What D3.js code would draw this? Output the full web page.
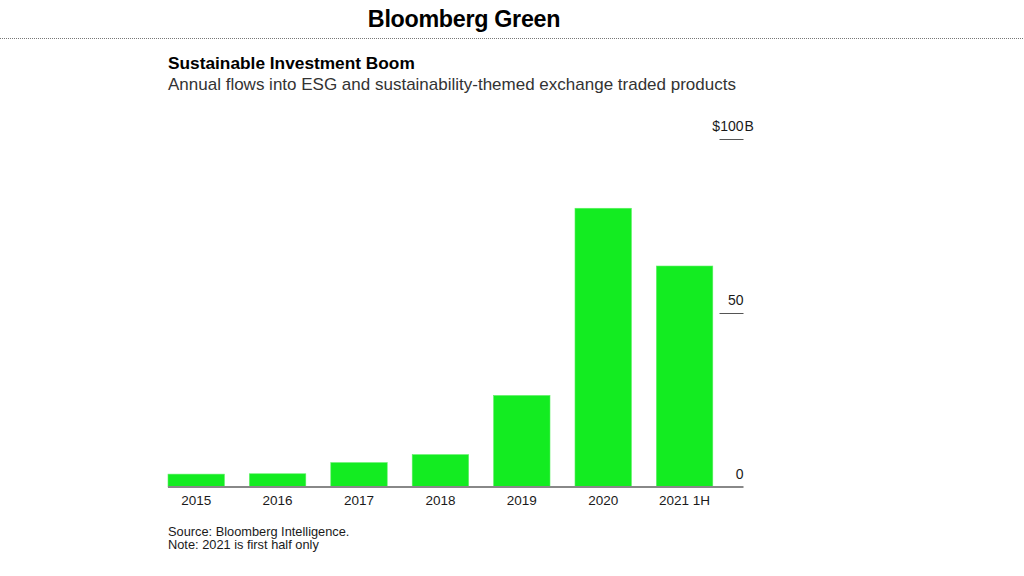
<!DOCTYPE html>
<html>
<head>
<meta charset="utf-8">
<script src="https://cdn.jsdelivr.net/npm/d3@7"></script>
<style>
  body { margin: 0; background: #fff; }
  text { font-family: "Liberation Sans", Arial, sans-serif; }
</style>
</head>
<body>
<div id="chart"></div>
<script>
// Data (billions USD)
const years = ["2015", "2016", "2017", "2018", "2019", "2020", "2021 1H"];
const flows = [3.7, 3.8, 7.0, 9.3, 26.3, 80.1, 63.5];
const tickValues = [0, 50, 100];
const notes = ["Source: Bloomberg Intelligence.", "Note: 2021 is first half only"];

const width = 1024;
const height = 576;

const svg = d3.select("#chart")
    .append("svg")
    .attr("width", width)
    .attr("height", height);

// Header: brand + dotted rule
svg.append("text")
    .attr("x", 464)
    .attr("y", 27)
    .attr("text-anchor", "middle")
    .style("font-size", "23.3px")
    .style("font-weight", "bold")
    .style("letter-spacing", "-0.3px")
    .attr("fill", "#000")
    .text("Bloomberg Green");

svg.append("line")
    .attr("x1", 0)
    .attr("x2", width)
    .attr("y1", 38.5)
    .attr("y2", 38.5)
    .attr("stroke", "#777")
    .attr("stroke-width", 1)
    .attr("stroke-dasharray", "1,1");

// Titles
svg.append("text")
    .attr("x", 168)
    .attr("y", 69)
    .style("font-size", "17.3px")
    .style("font-weight", "bold")
    .attr("fill", "#000")
    .text("Sustainable Investment Boom");

svg.append("text")
    .attr("x", 168)
    .attr("y", 90)
    .style("font-size", "17px")
    .attr("fill", "#333")
    .text("Annual flows into ESG and sustainability-themed exchange traded products");

// Scales
const x = d3.scaleBand()
    .domain(years)
    .range([168, 712.8])
    .paddingInner(0.307)
    .paddingOuter(0);

const y = d3.scaleLinear()
    .domain([0, 100])
    .range([487, 139]);

// Bars
svg.append("g")
    .selectAll("rect")
    .data(flows)
    .join("rect")
    .attr("x", (d, i) => x(years[i]))
    .attr("y", d => y(d))
    .attr("width", x.bandwidth())
    .attr("height", d => y(0) - y(d))
    .attr("fill", "#13ec21")
    .attr("stroke", "#5cf063")
    .attr("stroke-width", 0.6);

// Baseline
svg.append("line")
    .attr("x1", 168)
    .attr("x2", 743.5)
    .attr("y1", y(0))
    .attr("y2", y(0))
    .attr("stroke", "#888")
    .attr("stroke-width", 2);

// Category labels
svg.append("g")
    .selectAll("text")
    .data(years)
    .join("text")
    .attr("x", d => x(d) + x.bandwidth() / 2)
    .attr("y", 505)
    .attr("text-anchor", "middle")
    .style("font-size", "13.5px")
    .attr("fill", "#1a1a1a")
    .text(d => d);

// Right-hand value axis: short tick lines with labels above them
const tickX2 = 743.5;
const ticks = svg.append("g");

ticks.selectAll("line")
    .data(tickValues.filter(d => d > 0))
    .join("line")
    .attr("x1", tickX2 - 24)
    .attr("x2", tickX2)
    .attr("y1", d => y(d) + 0.5)
    .attr("y2", d => y(d) + 0.5)
    .attr("stroke", "#555")
    .attr("stroke-width", 1);

ticks.selectAll("text.num")
    .data(tickValues)
    .join("text")
    .attr("class", "num")
    .attr("x", tickX2)
    .attr("y", d => y(d) - 8.5)
    .attr("text-anchor", "end")
    .style("font-size", "14px")
    .attr("fill", "#1a1a1a")
    .text(d => d === 100 ? "$" + d : d);

// unit suffix on the top label hangs past the tick end
ticks.append("text")
    .attr("x", tickX2 + 1)
    .attr("y", y(100) - 8.5)
    .style("font-size", "14px")
    .attr("fill", "#1a1a1a")
    .text("B");

// Footnotes
svg.append("g")
    .selectAll("text")
    .data(notes)
    .join("text")
    .attr("x", 168)
    .attr("y", (d, i) => 535.5 + i * 13)
    .style("font-size", "12.8px")
    .attr("fill", "#1a1a1a")
    .text(d => d);
</script>
</body>
</html>
